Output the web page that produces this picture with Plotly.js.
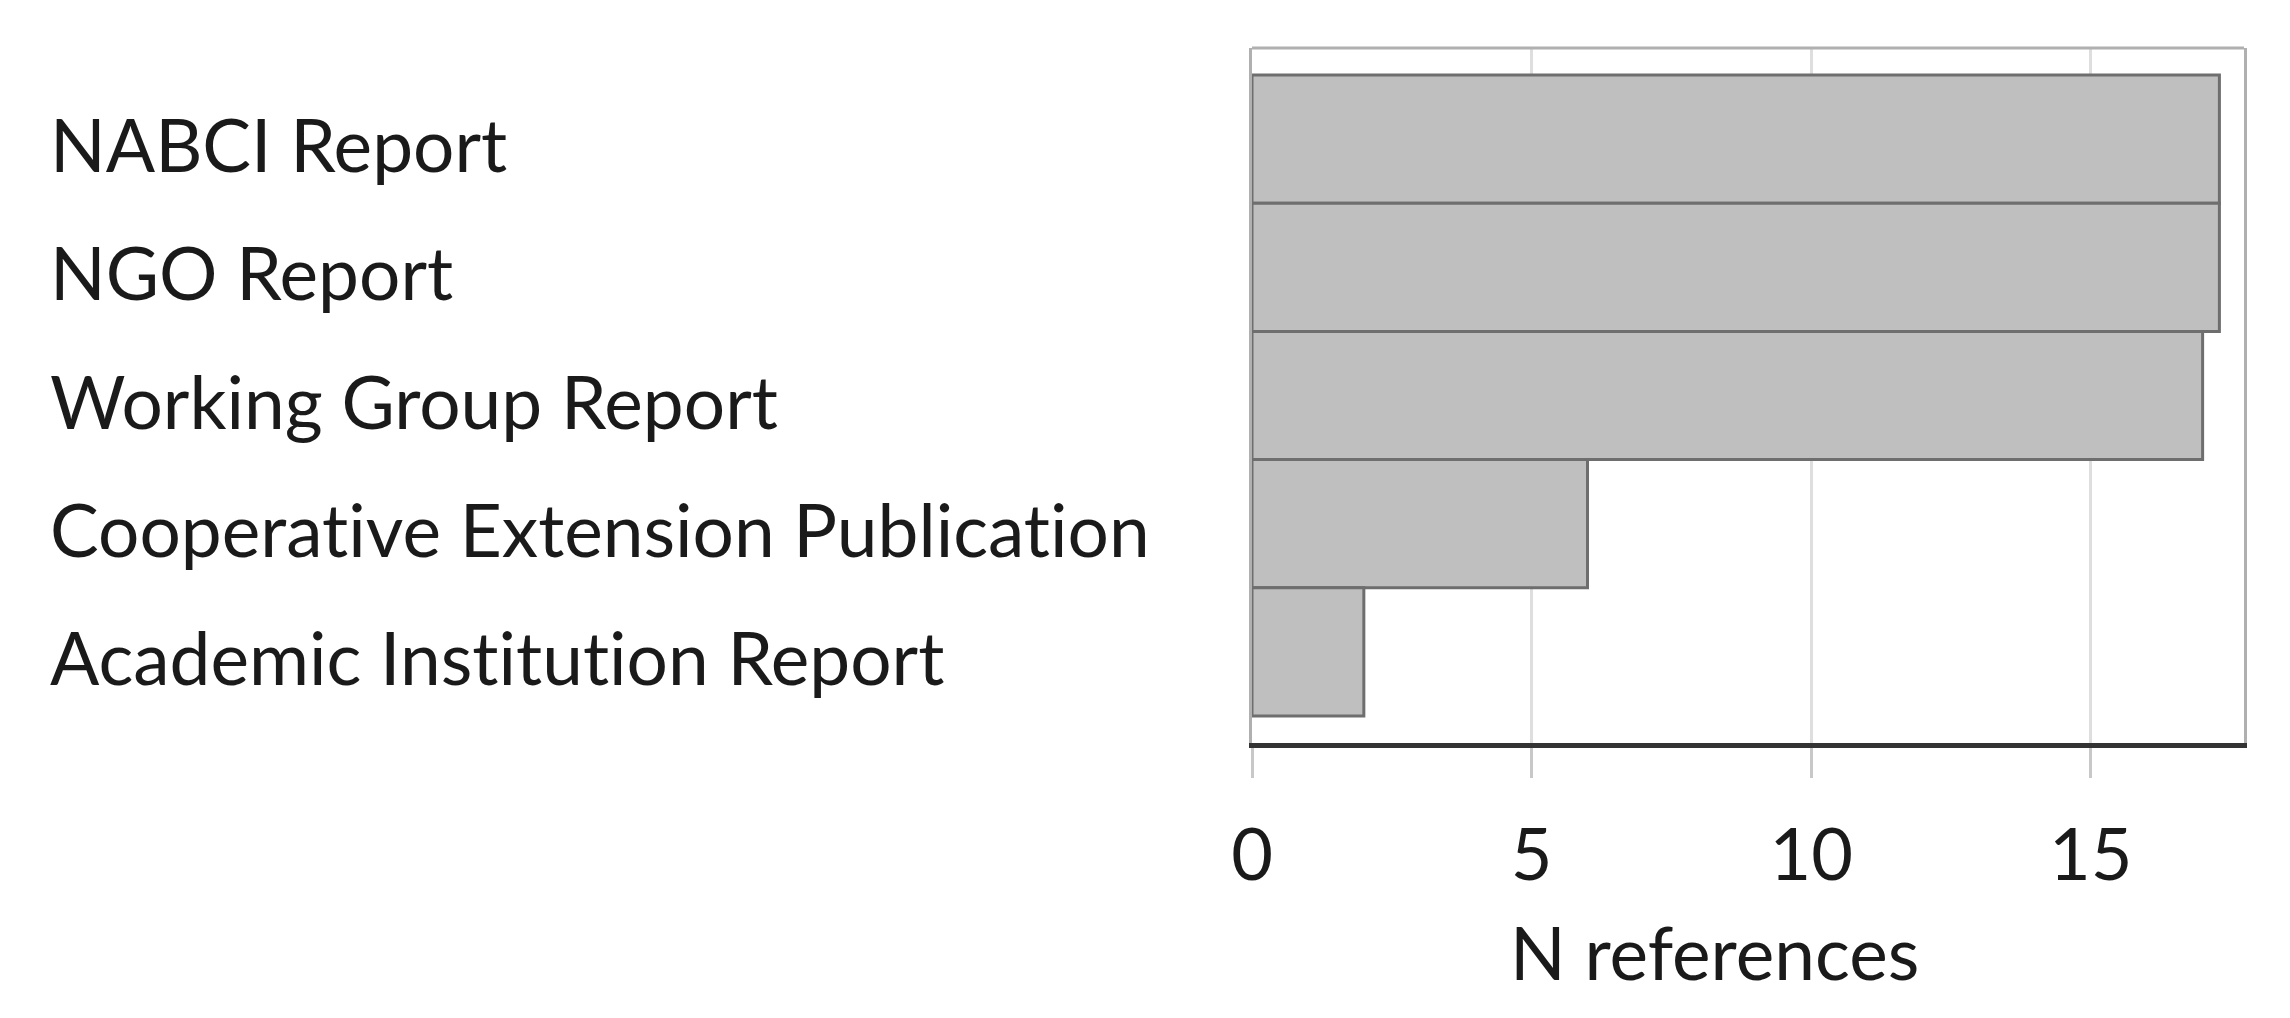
<!DOCTYPE html>
<html>
<head>
<meta charset="utf-8">
<script src="https://cdn.plot.ly/plotly-3.0.1.min.js"></script>
<style>
  html, body { margin: 0; padding: 0; background: #fff; }
  #chart { width: 2290px; height: 1018px; }
  text { font-variant-ligatures: none; font-feature-settings: "liga" 0; }
</style>
</head>
<body>
<div id="chart"></div>
<script>
// types de rapports et nombre de références
var categories = ["NABCI Report", "NGO Report", "Working Group Report",
                  "Cooperative Extension Publication", "Academic Institution Report"];
var n_refs = [17.3, 17.3, 17, 6, 2];
var tick_vals = [0, 5, 10, 15];
var x_title = "N references";

var font_family = "Lato, 'Open Sans', sans-serif";
var text_color = '#1a1a1a';

var data = [
    {
        x: n_refs,
        y: categories,
        type: 'bar',
        orientation: 'h',
        marker: {
            color: '#bfbfbf',
            line: {color: '#6e6e6e', width: 3}
        },
        hoverinfo: 'x+y'
    }
];

// étiquettes alignées à gauche comme dans la figure
var label_annotations = categories.map(function (c) {
    return {
        text: c,
        xref: 'paper', yref: 'y',
        x: -1.2137, y: c,
        xanchor: 'left', yanchor: 'middle',
        yshift: -5,
        showarrow: false,
        font: {family: font_family, size: 73, color: text_color}
    };
});
label_annotations.push({
    text: x_title,
    xref: 'paper', yref: 'paper',
    x: 0.466, y: -0.30,
    xanchor: 'center', yanchor: 'middle',
    showarrow: false,
    font: {family: font_family, size: 73, color: text_color}
});

var layout = {
    width: 2290,
    height: 1018,
    margin: {l: 1252, r: 46, t: 48, b: 275},
    paper_bgcolor: '#ffffff',
    plot_bgcolor: '#ffffff',
    showlegend: false,
    bargap: 0,
    font: {family: font_family, size: 72, color: text_color},
    xaxis: {
        range: [0, 17.74],
        tickvals: tick_vals,
        ticks: 'outside',
        ticklen: 30,
        tickwidth: 3,
        tickcolor: '#c8c8c8',
        showgrid: true,
        gridcolor: '#dedede',
        gridwidth: 3,
        zeroline: false,
        showline: true,
        linecolor: '#333333',
        linewidth: 5,
        ticklabelstandoff: 16,
        tickfont: {family: font_family, size: 72, color: text_color}
    },
    yaxis: {
        type: 'category',
        categoryorder: 'array',
        categoryarray: categories,
        range: [4.71, -0.71],
        showticklabels: false,
        ticks: '',
        showgrid: false,
        zeroline: false,
        showline: true,
        mirror: true,
        linecolor: '#b0b0b0',
        linewidth: 3
    },
    shapes: [
        {type: 'line', xref: 'paper', yref: 'paper', x0: 0, x1: 1, y0: 1, y1: 1,
         line: {color: '#b0b0b0', width: 3}}
    ],
    annotations: label_annotations
};

Plotly.newPlot("chart", data, layout, {displayModeBar: false, staticPlot: true});
</script>
</body>
</html>
